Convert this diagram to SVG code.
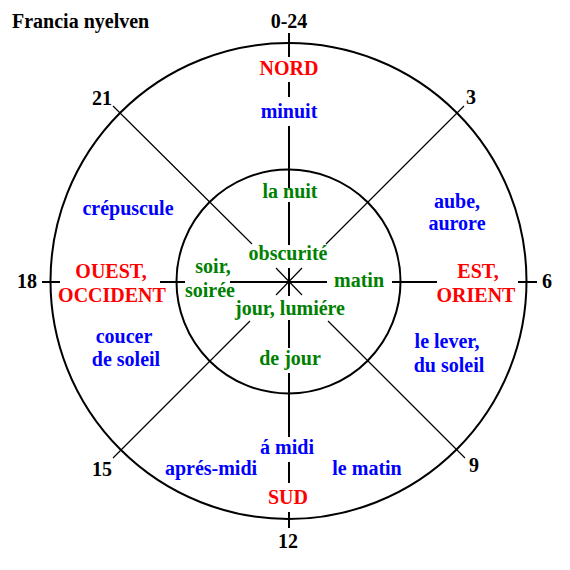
<svg xmlns="http://www.w3.org/2000/svg" width="570" height="570" viewBox="0 0 570 570">
<style>
text{font-family:"Liberation Serif","Times New Roman",serif;font-weight:bold;font-size:20px;text-anchor:middle}
.k{fill:#000}.r{fill:#ff0000}.b{fill:#0000ff}.g{fill:#008000}
.c{fill:none;stroke:#000;stroke-width:2}
.ax{stroke:#000;stroke-width:2;fill:none}
.dg{stroke:#000;stroke-width:1.2;fill:none}
</style>
<rect width="570" height="570" fill="#fff"/>
<g id="circles">
<circle class="c" cx="288.5" cy="281" r="238"/>
<circle class="c" cx="288.5" cy="281.5" r="112"/>
</g>
<g id="connectors">
<path class="ax" d="M289 33V57M289 82V97M289 126V188M289 202V245M289 268V296M289 320V348M289 373V437M289 462V483M289 512V528"/>
<path class="ax" d="M42 282H60M160 282H185M230 282H327M392 282H437M518 282H537"/>
<path class="dg" d="M113 106L252 244M464 106L326 244M250 321L113 458M328 321L465 458M276 268L302 295M302 268L276 295"/>
</g>
<g id="title"><text class="k" x="12" y="28" style="text-anchor:start">Francia nyelven</text></g>
<g id="hours">
<text class="k" x="289" y="28">0-24</text>
<text class="k" x="102" y="105">21</text>
<text class="k" x="471" y="104">3</text>
<text class="k" x="27" y="288">18</text>
<text class="k" x="547" y="288">6</text>
<text class="k" x="102" y="476">15</text>
<text class="k" x="474" y="472">9</text>
<text class="k" x="288" y="548">12</text>
</g>
<g id="north"><text class="r" x="289" y="75">NORD</text><text class="b" x="289" y="118">minuit</text></g>
<g id="south"><text class="b" x="287" y="454">á midi</text><text class="r" x="288" y="504">SUD</text></g>
<g id="west"><text class="r" x="111" y="278">OUEST,</text><text class="r" x="112" y="302">OCCIDENT</text></g>
<g id="east"><text class="r" x="478" y="278">EST,</text><text class="r" x="476" y="302">ORIENT</text></g>
<g id="outer-quadrants">
<text class="b" x="128" y="215">crépuscule</text>
<text class="b" x="457" y="208">aube,</text><text class="b" x="457" y="230">aurore</text>
<text class="b" x="124" y="343">coucer</text><text class="b" x="126" y="366">de soleil</text>
<text class="b" x="447" y="348">le lever,</text><text class="b" x="449" y="372">du soleil</text>
<text class="b" x="211" y="475">aprés-midi</text>
<text class="b" x="367" y="475">le matin</text>
</g>
<g id="inner">
<text class="g" x="290" y="198">la nuit</text>
<text class="g" x="288" y="260">obscurité</text>
<text class="g" x="213" y="273">soir,</text>
<text class="g" x="210" y="297">soirée</text>
<text class="g" x="359" y="287">matin</text>
<text class="g" x="290" y="315">jour, lumiére</text>
<text class="g" x="290" y="365">de jour</text>
</g>
</svg>
